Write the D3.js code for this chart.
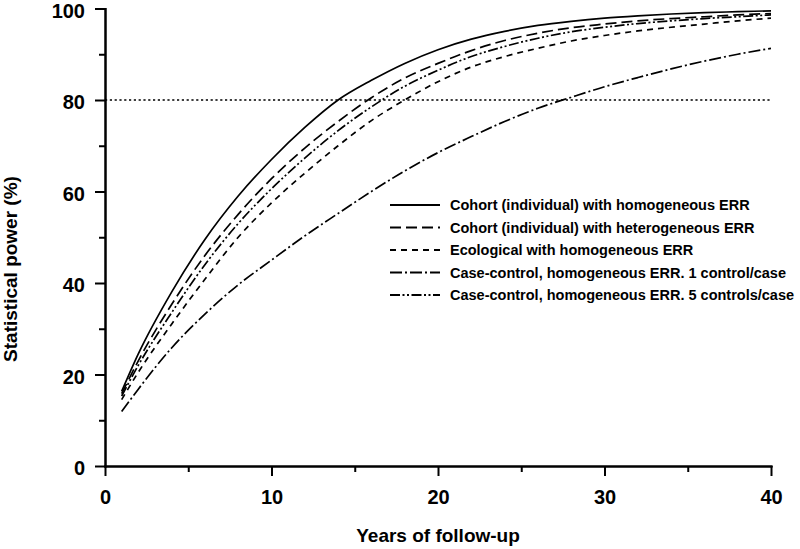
<!DOCTYPE html>
<html>
<head>
<meta charset="utf-8">
<script src="https://cdn.jsdelivr.net/npm/d3@7"></script>
<style>
  body { margin: 0; background: #fff; }
  svg { display: block; font-family: "Liberation Sans", Arial, sans-serif; font-weight: bold; }
  .axis path, .axis line { stroke: #000; stroke-width: 2; }
  .axis text { font-size: 20px; font-weight: bold; fill: #000; }
  .legend text { font-size: 14.5px; font-weight: bold; fill: #000; }
</style>
</head>
<body>
<svg width="800" height="549"></svg>
<script>
// data
const years = [1, 2, 4, 6, 8, 10, 12, 14, 16, 18, 20, 22, 24, 26, 28, 30, 32, 34, 36, 38, 40];

const cohortHomog   = [16.3, 24.5, 38.0, 49.5, 59.0, 67.0, 74.0, 80.0, 84.3, 88.0, 91.0, 93.3, 95.0, 96.3, 97.2, 97.9, 98.4, 98.8, 99.1, 99.3, 99.5];
const cohortHetero  = [15.8, 23.0, 35.3, 46.0, 55.0, 62.8, 69.5, 75.3, 80.5, 84.8, 88.0, 90.8, 93.0, 94.6, 95.8, 96.6, 97.3, 97.8, 98.2, 98.6, 98.9];
const ecological    = [14.5, 20.5, 31.0, 40.8, 50.0, 57.5, 64.0, 70.0, 75.5, 80.0, 84.0, 87.2, 89.5, 91.3, 92.9, 94.1, 95.1, 95.9, 96.6, 97.3, 97.9];
const caseControl1  = [11.9, 16.8, 25.8, 33.2, 39.6, 45.0, 50.3, 55.2, 60.0, 64.5, 68.5, 72.0, 75.3, 78.2, 80.6, 82.9, 84.9, 86.8, 88.5, 90.0, 91.3];
const caseControl5  = [15.3, 22.0, 33.5, 44.0, 53.0, 60.6, 67.3, 73.3, 78.5, 83.0, 86.5, 89.5, 91.7, 93.5, 94.9, 95.9, 96.7, 97.3, 97.8, 98.2, 98.6];

const seriesNames = [
  "Cohort (individual) with homogeneous ERR",
  "Cohort (individual) with heterogeneous ERR",
  "Ecological with homogeneous ERR",
  "Case-control, homogeneous ERR. 1 control/case",
  "Case-control, homogeneous ERR. 5 controls/case"
];
const seriesValues = [cohortHomog, cohortHetero, ecological, caseControl1, caseControl5];
const dashes = [null, "11,5", "6,5", "12,3,2,3", "10,2.5,2,2.5,2,2.5"];

const xMajor = [0, 10, 20, 30, 40],
      xMinor = [5, 15, 25, 35],
      yMajor = [0, 20, 40, 60, 80, 100],
      yMinor = [10, 30, 50, 70, 90];
const threshold = 80;

var svg = d3.select("svg");
const margin = {left: 105, right: 29, top: 8.5, bottom: 83};
const W = 800, H = 549;

var x = d3.scaleLinear().domain([0, 40]).range([margin.left, W - margin.right]);
var y = d3.scaleLinear().domain([0, 100]).range([H - margin.bottom, margin.top]);

// axes: minor ticks first, then majors with labels
svg.append("g").attr("class", "axis")
    .attr("transform", `translate(0,${y(0)})`)
    .call(d3.axisBottom(x).tickValues(xMinor).tickSize(6).tickSizeOuter(0).tickFormat(""));
svg.append("g").attr("class", "axis")
    .attr("transform", `translate(0,${y(0)})`)
    .call(d3.axisBottom(x).tickValues(xMajor).tickSize(10).tickSizeOuter(0).tickPadding(14));

svg.append("g").attr("class", "axis")
    .attr("transform", `translate(${x(0)},0)`)
    .call(d3.axisLeft(y).tickValues(yMinor).tickSize(6).tickSizeOuter(0).tickFormat(""));
var gY = svg.append("g").attr("class", "axis")
    .attr("transform", `translate(${x(0)},0)`)
    .call(d3.axisLeft(y).tickValues(yMajor).tickSize(10).tickSizeOuter(0).tickPadding(10));
gY.selectAll(".tick text").attr("dy", "0.43em");

svg.selectAll(".axis path.domain").attr("stroke-linecap", "square");

// 80% reference line
svg.append("line")
    .attr("x1", x(0)).attr("x2", x(40))
    .attr("y1", y(threshold)).attr("y2", y(threshold))
    .attr("stroke", "#000").attr("stroke-width", 1.6)
    .attr("stroke-dasharray", "2.2,2.6");

var line = d3.line()
    .x((d, i) => x(years[i]))
    .y(d => y(d))
    .curve(d3.curveMonotoneX);

svg.selectAll("path.series")
    .data(seriesValues)
    .enter().append("path")
    .attr("class", "series")
    .attr("d", line)
    .attr("fill", "none")
    .attr("stroke", "#000")
    .attr("stroke-width", 1.7)
    .attr("stroke-dasharray", (d, i) => dashes[i]);

// legend
var legend = svg.append("g").attr("class", "legend")
    .selectAll("g")
    .data(seriesNames)
    .enter().append("g")
    .attr("transform", (d, i) => `translate(390,${205 + i * 22.5})`);

legend.append("line")
    .attr("x1", 0).attr("x2", 50)
    .attr("stroke", "#000").attr("stroke-width", 1.8)
    .attr("stroke-dasharray", (d, i) => dashes[i]);

legend.append("text")
    .attr("x", 60).attr("y", 5)
    .text(d => d);

// axis titles
svg.append("text")
    .attr("x", 438).attr("y", 542)
    .attr("text-anchor", "middle")
    .style("font-size", "19px")
    .text("Years of follow-up");

svg.append("text")
    .attr("transform", "translate(17,269) rotate(-90)")
    .attr("text-anchor", "middle")
    .style("font-size", "19px")
    .text("Statistical power (%)");
</script>
</body>
</html>
